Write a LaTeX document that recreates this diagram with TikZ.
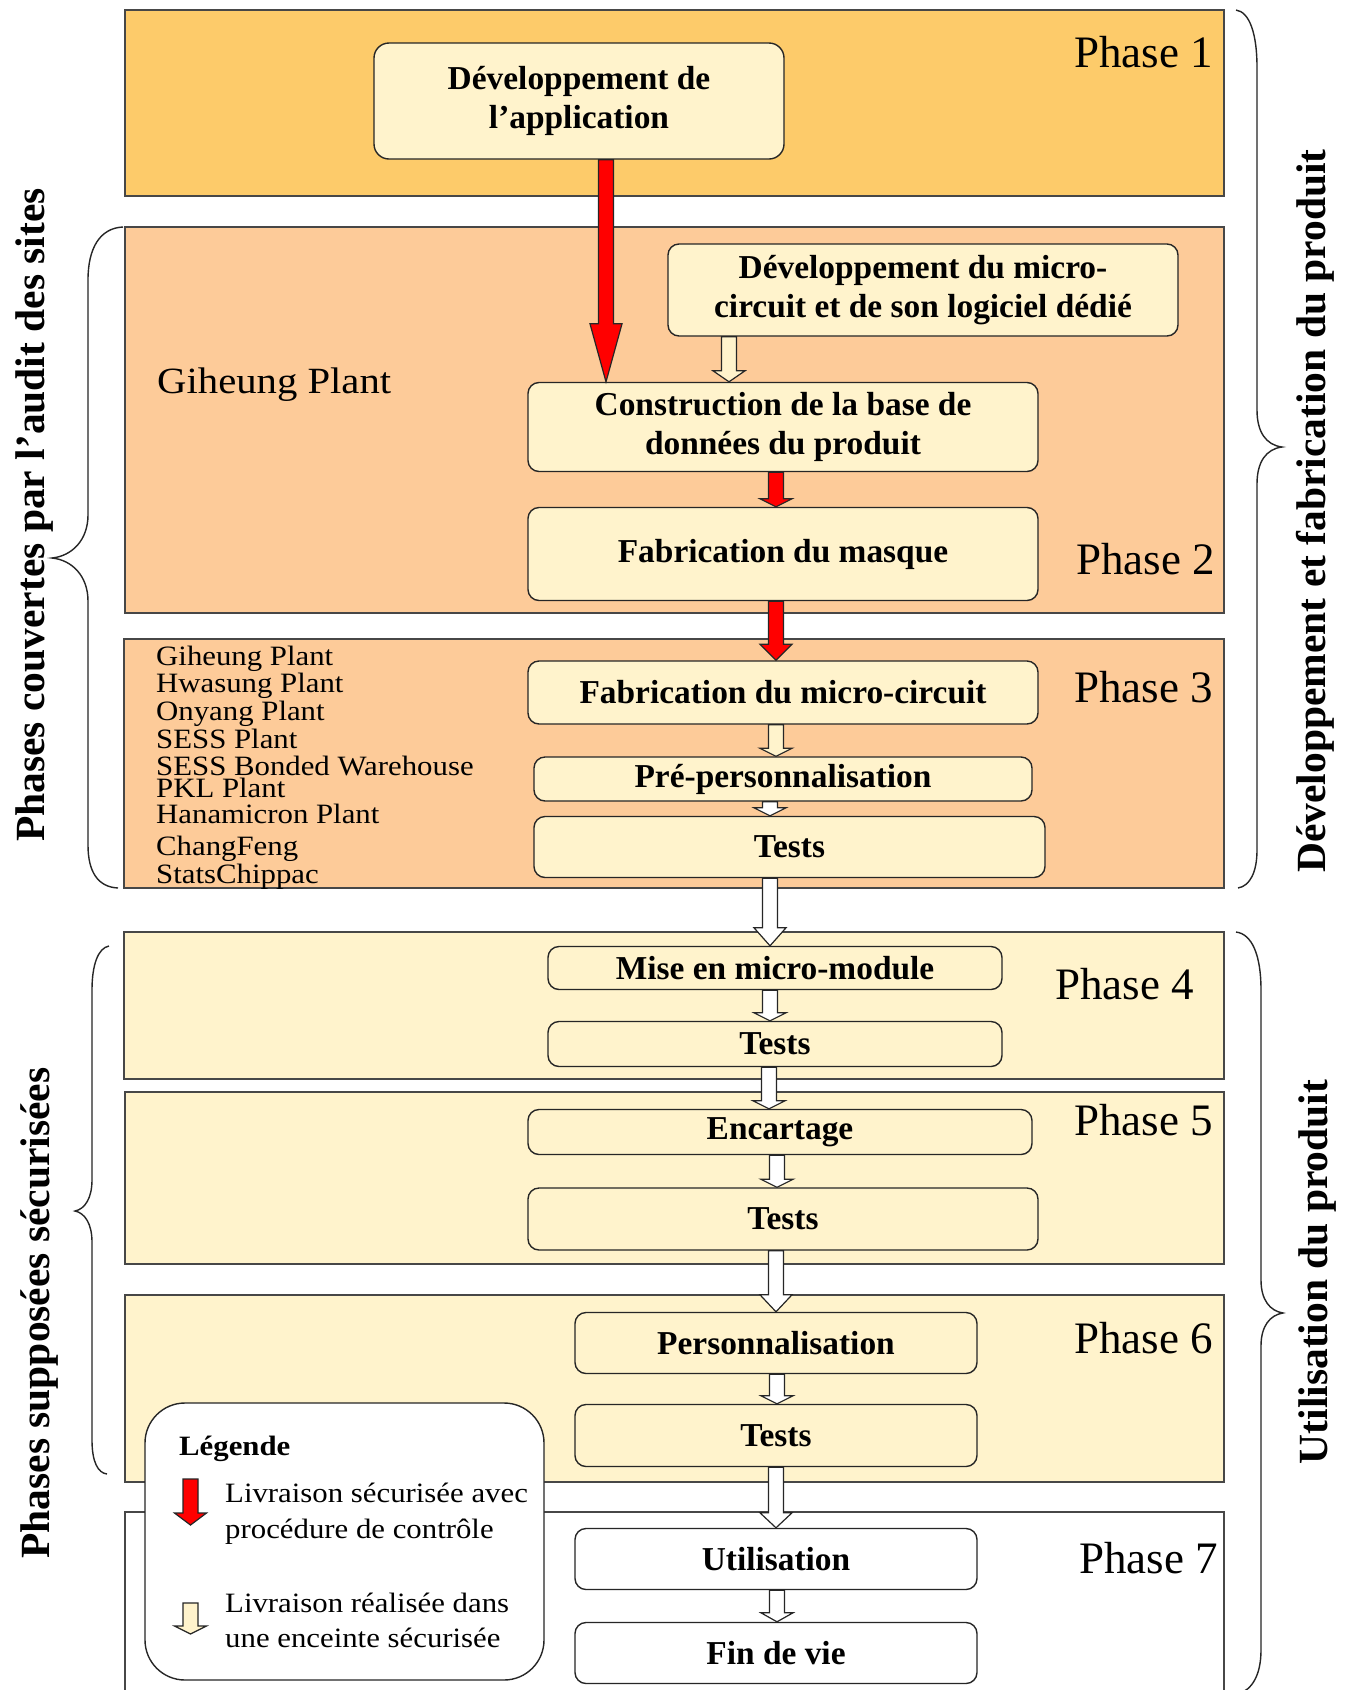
\documentclass[tikz,border=0pt]{standalone}
\usepackage{fontspec}
\setmainfont{Liberation Serif}
\newfontfamily\wideserif[FakeStretch=1.1]{Liberation Serif}
\usetikzlibrary{calc}
\definecolor{phA}{HTML}{FDCB6A}
\definecolor{phB}{HTML}{FDCB99}
\definecolor{cream}{HTML}{FFF3CC}
\definecolor{edge}{HTML}{262626}
\definecolor{redarr}{HTML}{FF0000}
\newcommand\fNode{\fontsize{33.4pt}{39.5pt}\selectfont\bfseries}
\newcommand\fPhase{\fontsize{45pt}{50pt}\selectfont}
\newcommand\fSide{\fontsize{41.5pt}{46pt}\selectfont\bfseries}
\newcommand\fList{\wideserif\fontsize{28pt}{30pt}\selectfont}
\newcommand\fGih{\wideserif\fontsize{37pt}{40pt}\selectfont}
\newcommand\fLeg{\wideserif\fontsize{28pt}{36pt}\selectfont}
\newcommand\fLegT{\wideserif\bfseries\fontsize{28pt}{32pt}\selectfont}
% block arrow between two named nodes: fill, x, from, to, head length
\newcommand\blockarrow[5]{%
  \path[blockarr, fill=#1] let \p1=(#3.south), \p2=(#4.north) in
    ({#2pt-7.5pt},\y1) -- ({#2pt+7.5pt},\y1) -- ({#2pt+7.5pt},{\y2+#5pt})
    -- ({#2pt+16pt},{\y2+#5pt}) -- (#2pt,\y2) -- ({#2pt-16pt},{\y2+#5pt})
    -- ({#2pt-7.5pt},{\y2+#5pt}) -- cycle;}
% free-standing legend arrow: fill, x, top, tip, head length
\newcommand\legarrow[5]{%
  \path[blockarr, fill=#1]
    ({#2-7.5},#3) -- ({#2+7.5},#3) -- ({#2+7.5},{#4-#5}) -- ({#2+16},{#4-#5})
    -- (#2,#4) -- ({#2-16},{#4-#5}) -- ({#2-7.5},{#4-#5}) -- cycle;}
\tikzset{
  phasebox/.style={draw=edge!85, line width=1.5pt},
  stepbox/.style={draw=edge, line width=1.4pt, rounded corners=11pt, fill=cream,
    inner sep=0pt, align=center, font=\fNode},
  phaselbl/.style={anchor=base east, inner sep=0pt, font=\fPhase},
  sidelbl/.style={rotate=90, anchor=base, inner sep=0pt, font=\fSide},
  sitelbl/.style={anchor=base west, inner sep=0pt, font=\fList},
  legtxt/.style={anchor=base west, inner sep=0pt, font=\fLeg},
  blockarr/.style={draw=edge, line width=1.2pt, line join=miter},
  bracepath/.style={draw=edge, line width=1.4pt},
}
\begin{document}
\begin{tikzpicture}[x=1pt,y=-1pt]
\clip (0,0) rectangle (1351,1690);
\fill[white] (0,0) rectangle (1351,1690);

% phase regions
\draw[phasebox, fill=phA] (125,10) rectangle (1224,196);
\draw[phasebox, fill=phB] (125,227) rectangle (1224,613);
\draw[phasebox, fill=phB] (124,639) rectangle (1224,888);
\draw[phasebox, fill=cream] (124,932) rectangle (1224,1079);
\draw[phasebox, fill=cream] (125,1092) rectangle (1224,1264);
\draw[phasebox, fill=cream] (125,1295) rectangle (1224,1482);
\draw[phasebox, fill=white] (125,1512) rectangle (1224,1730);

% braces
\draw[bracepath] (123,227) .. controls (100,228) and (88,248) .. (88,280) -- (88,515)
  .. controls (88,540) and (72,556) .. (52,558) .. controls (72,560) and (88,576) .. (88,601)
  -- (88,845) .. controls (88,872) and (98,887) .. (118,888);
\draw[bracepath] (1236,10) .. controls (1250,12) and (1257,35) .. (1257,67) -- (1257,410)
  .. controls (1257,432) and (1266,445) .. (1282,447) .. controls (1266,449) and (1257,462) .. (1257,484)
  -- (1257,850) .. controls (1257,872) and (1250,886) .. (1238,888);
\draw[bracepath] (109,946) .. controls (98,948) and (92,965) .. (92,990) -- (92,1180)
  .. controls (92,1198) and (85,1209) .. (75,1211) .. controls (85,1213) and (92,1224) .. (92,1242)
  -- (92,1440) .. controls (92,1462) and (98,1473) .. (107,1474);
\draw[bracepath] (1236,932) .. controls (1252,934) and (1261,955) .. (1261,990) -- (1261,1280)
  .. controls (1261,1300) and (1270,1311) .. (1283,1313) .. controls (1270,1315) and (1261,1326) .. (1261,1346)
  -- (1261,1650) .. controls (1261,1675) and (1252,1690) .. (1238,1694);

% side labels
\node[sidelbl] (sideA) at (44,515) {Phases couvertes par l’audit des sites};
\node[sidelbl] (sideB) at (1325,511) {Développement et fabrication du produit};
\node[sidelbl] (sideC) at (49,1313) {Phases supposées sécurisées};
\node[sidelbl] (sideD) at (1327,1272) {Utilisation du produit};

% phase labels
\node[phaselbl] (lp1) at (1213,67) {Phase 1};
\node[phaselbl] (lp2) at (1215,574) {Phase 2};
\node[phaselbl] (lp3) at (1213,702) {Phase 3};
\node[phaselbl] (lp4) at (1194,999) {Phase 4};
\node[phaselbl] (lp5) at (1213,1135) {Phase 5};
\node[phaselbl] (lp6) at (1213,1353) {Phase 6};
\node[phaselbl] (lp7) at (1218,1573) {Phase 7};

% sites
\node[anchor=base west, inner sep=0pt, font=\fGih] (gih) at (157,393) {Giheung Plant};
\node[sitelbl] (s1) at (156,665) {Giheung Plant};
\node[sitelbl] (s2) at (156,692) {Hwasung Plant};
\node[sitelbl] (s3) at (156,720) {Onyang Plant};
\node[sitelbl] (s4) at (156,748) {SESS Plant};
\node[sitelbl] (s5) at (156,775) {SESS Bonded Warehouse};
\node[sitelbl] (s6) at (156,797) {PKL Plant};
\node[sitelbl] (s7) at (156,823) {Hanamicron Plant};
\node[sitelbl] (s8) at (156,855) {ChangFeng};
\node[sitelbl] (s9) at (156,883) {StatsChippac};

% steps
\node[stepbox, rounded corners=15pt, minimum width=410pt, minimum height=116pt] (app) at (579,101) {Développement de\\l’application};
\node[stepbox, minimum width=510pt, minimum height=92pt] (devmc) at (923,290) {Développement du micro-\\circuit et de son logiciel dédié};
\node[stepbox, minimum width=510pt, minimum height=89pt] (constr) at (783,427) {Construction de la base de\\données du produit};
\node[stepbox, minimum width=510pt, minimum height=93pt] (masque) at (783,554) {Fabrication du masque};
\node[stepbox, minimum width=510pt, minimum height=63pt] (fabmc) at (783,692.5) {Fabrication du micro-circuit};
\node[stepbox, minimum width=498pt, minimum height=44pt] (preperso) at (783,779) {Pré-personnalisation};
\node[stepbox, minimum width=511pt, minimum height=61pt] (testsA) at (789.5,847) {Tests};
\node[stepbox, minimum width=454pt, minimum height=43pt] (mise) at (775,968) {Mise en micro-module};
\node[stepbox, minimum width=454pt, minimum height=45pt] (testsB) at (775,1044) {Tests};
\node[stepbox, minimum width=504pt, minimum height=45pt] (encart) at (780,1132) {Encartage};
\node[stepbox, minimum width=510pt, minimum height=62pt] (testsC) at (783,1219) {Tests};
\node[stepbox, minimum width=402pt, minimum height=61pt] (perso) at (776,1343) {Personnalisation};
\node[stepbox, minimum width=402pt, minimum height=62pt] (testsD) at (776,1435.5) {Tests};
\node[stepbox, fill=white, minimum width=402pt, minimum height=61pt] (util) at (776,1559) {Utilisation};
\node[stepbox, fill=white, minimum width=402pt, minimum height=61pt] (fin) at (776,1653) {Fin de vie};

% deliveries
\blockarrow{redarr}{606}{app}{constr}{58}
\blockarrow{cream}{729}{devmc}{constr}{11}
\blockarrow{redarr}{776}{constr}{masque}{8}
\blockarrow{redarr}{776}{masque}{fabmc}{16}
\blockarrow{cream}{776}{fabmc}{preperso}{8}
\blockarrow{white}{770}{preperso}{testsA}{8}
\blockarrow{white}{770}{testsA}{mise}{18}
\blockarrow{white}{770}{mise}{testsB}{8}
\blockarrow{white}{769}{testsB}{encart}{8}
\blockarrow{white}{777}{encart}{testsC}{8}
\blockarrow{white}{776}{testsC}{perso}{17}
\blockarrow{white}{777}{perso}{testsD}{8}
\blockarrow{white}{776}{testsD}{util}{15}
\blockarrow{white}{777}{util}{fin}{9}

% legend
\draw[draw=edge, line width=1.4pt, fill=white, rounded corners=40pt] (145,1403) rectangle (544,1680);
\node[anchor=base west, inner sep=0pt, font=\fLegT] (legt) at (179,1455) {Légende};
\legarrow{redarr}{190.5}{1479}{1525}{12}
\node[legtxt] (legA1) at (225,1502) {Livraison sécurisée avec};
\node[legtxt] (legA2) at (225,1538) {procédure de contrôle};
\legarrow{cream}{190.5}{1603}{1634}{8}
\node[legtxt] (legB1) at (225,1612) {Livraison réalisée dans};
\node[legtxt] (legB2) at (225,1647) {une enceinte sécurisée};
\end{tikzpicture}
\end{document}
